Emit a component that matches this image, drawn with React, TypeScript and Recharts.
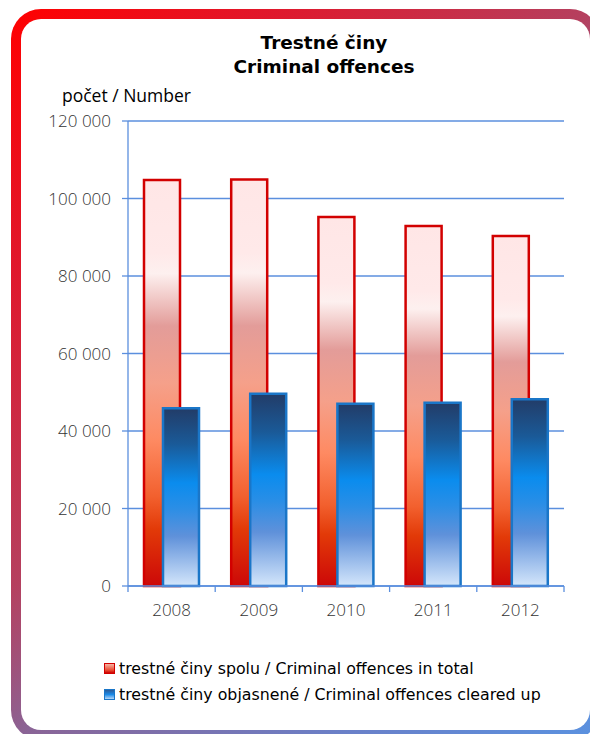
import React from "react";
import { Bar, BarChart, CartesianGrid, XAxis, YAxis } from "recharts";

const years = ["2008", "2009", "2010", "2011", "2012"];
const totalOffences = [104758, 104905, 95252, 92873, 90351];
const clearedOffences = [45850, 49600, 47050, 47300, 48200];
const yTicks = [0, 20000, 40000, 60000, 80000, 100000, 120000];

const titleLines = ["Trestné činy", "Criminal offences"];
const yAxisTitle = "počet / Number";

const series = [
  {
    key: "total",
    name: "trestné činy spolu / Criminal offences in total",
    fill: "url(#redBarGrad)",
    stroke: "#d20000",
    icon: "linear-gradient(#f6b4a4, #e84a30 70%, #cc0000)",
  },
  {
    key: "cleared",
    name: "trestné činy objasnené / Criminal offences cleared up",
    fill: "url(#blueBarGrad)",
    stroke: "#1a76c8",
    icon: "linear-gradient(#2a5a98, #1a8ae8 50%, #b8d6f6)",
  },
];

const data = years.map((year, i) => ({
  year,
  total: totalOffences[i],
  cleared: clearedOffences[i],
}));

const GRID_BLUE = "#5b8fde";
const LABEL_FONT = "'Open Sans', 'Noto Sans', sans-serif";
const TITLE_FONT = "'DejaVu Sans', sans-serif";
const X_TICK_SIZE = 6;
const X_TICK_MARGIN = 12;

function formatThousands(value: number) {
  return String(value).replace(/\B(?=(\d{3})+(?!\d))/g, " ");
}

// Year label plus the small tick marks that sit between categories (Excel style)
function YearTick(props: any) {
  const { x, y, payload, index, visibleTicksCount, width } = props;
  const band = width / visibleTicksCount;
  const axisY = y - X_TICK_SIZE - X_TICK_MARGIN;
  const edges = [x - band / 2];
  if (index === visibleTicksCount - 1) edges.push(x + band / 2);
  return (
    <g>
      {edges.map((ex) => (
        <line
          key={ex}
          x1={ex}
          x2={ex}
          y1={axisY}
          y2={axisY + X_TICK_SIZE}
          stroke={GRID_BLUE}
          strokeWidth={1.3}
        />
      ))}
      <text
        x={x}
        y={y}
        dy="0.71em"
        textAnchor="middle"
        fill="#333"
        fontSize={17}
        fontFamily={LABEL_FONT}
        fontWeight={300}
      >
        {payload.value}
      </text>
    </g>
  );
}

export default function App() {
  return (
    <div
      style={{
        position: "fixed",
        left: 0,
        top: 0,
        width: 590,
        height: 734,
        overflow: "hidden",
        background: "#fff",
      }}
    >
      {/* rounded frame with a red-to-blue border */}
      <div
        style={{
          position: "absolute",
          left: 11,
          top: 9,
          width: 589,
          height: 731,
          borderRadius: 30,
          background:
            "linear-gradient(135deg, #ff0000 0%, #e0182c 20%, #b5405f 44%, #8a6496 56%, #6a80c8 80%, #5a92e0 100%)",
        }}
      >
        <div
          style={{
            position: "absolute",
            inset: 10,
            borderRadius: 20,
            background: "#fff",
          }}
        />
      </div>

      <div
        style={{
          position: "absolute",
          left: 124,
          top: 31,
          width: 400,
          textAlign: "center",
          fontFamily: TITLE_FONT,
          fontWeight: "bold",
          fontSize: 18.5,
          lineHeight: "24px",
          color: "#000",
        }}
      >
        {titleLines.map((line) => (
          <div key={line}>{line}</div>
        ))}
      </div>

      <div
        style={{
          position: "absolute",
          left: 62,
          top: 83,
          fontFamily: LABEL_FONT,
          fontSize: 17.5,
          lineHeight: "24px",
          color: "#000",
          whiteSpace: "nowrap",
        }}
      >
        {yAxisTitle}
      </div>

      <div style={{ position: "absolute", left: 0, top: 0 }}>
        <BarChart
          width={590}
          height={734}
          data={data}
          barGap={-17}
          margin={{ top: 121, right: 26, left: 58, bottom: 118 }}
        >
          <defs>
            <linearGradient id="redBarGrad" x1="0" y1="0" x2="0" y2="1">
              <stop offset="0" stopColor="#ffe6e6" />
              <stop offset="0.18" stopColor="#ffe9e9" />
              <stop offset="0.23" stopColor="#fdf0ef" />
              <stop offset="0.36" stopColor="#e39c99" />
              <stop offset="0.5" stopColor="#f5a08a" />
              <stop offset="0.64" stopColor="#fe8a62" />
              <stop offset="0.78" stopColor="#f2602e" />
              <stop offset="0.86" stopColor="#e23a08" />
              <stop offset="1" stopColor="#cc0808" />
            </linearGradient>
            <linearGradient id="blueBarGrad" x1="0" y1="0" x2="0" y2="1">
              <stop offset="0" stopColor="#223c68" />
              <stop offset="0.2" stopColor="#1a5a98" />
              <stop offset="0.42" stopColor="#0a8cee" />
              <stop offset="0.56" stopColor="#2a8ee6" />
              <stop offset="0.72" stopColor="#5f91da" />
              <stop offset="1" stopColor="#d4e6fb" />
            </linearGradient>
          </defs>
          <CartesianGrid vertical={false} stroke={GRID_BLUE} strokeWidth={1.3} />
          <XAxis
            dataKey="year"
            axisLine={{ stroke: GRID_BLUE, strokeWidth: 1.3 }}
            tickLine={false}
            tickSize={X_TICK_SIZE}
            tickMargin={X_TICK_MARGIN}
            height={30}
            interval={0}
            tick={<YearTick />}
          />
          <YAxis
            width={70}
            domain={[0, 120000]}
            ticks={yTicks}
            interval={0}
            tickFormatter={formatThousands}
            axisLine={{ stroke: GRID_BLUE, strokeWidth: 1.3 }}
            tickLine={{ stroke: GRID_BLUE, strokeWidth: 1.3 }}
            tickSize={6}
            tickMargin={11}
            tick={{ fill: "#333", fontSize: 17, fontFamily: LABEL_FONT, fontWeight: 300 }}
          />
          {series.map((s) => (
            <Bar
              key={s.key}
              dataKey={s.key}
              name={s.name}
              barSize={36}
              fill={s.fill}
              stroke={s.stroke}
              strokeWidth={2.5}
              isAnimationActive={false}
            />
          ))}
        </BarChart>
      </div>

      <div
        style={{
          position: "absolute",
          left: 104,
          top: 655,
          fontFamily: TITLE_FONT,
          fontSize: 15.8,
          color: "#000",
        }}
      >
        {series.map((s) => (
          <div
            key={s.key}
            style={{ display: "flex", alignItems: "center", height: 26, whiteSpace: "nowrap" }}
          >
            <span
              style={{
                display: "inline-block",
                width: 9,
                height: 9,
                border: `1.5px solid ${s.stroke}`,
                background: s.icon,
                marginRight: 4,
              }}
            />
            {s.name}
          </div>
        ))}
      </div>
    </div>
  );
}
